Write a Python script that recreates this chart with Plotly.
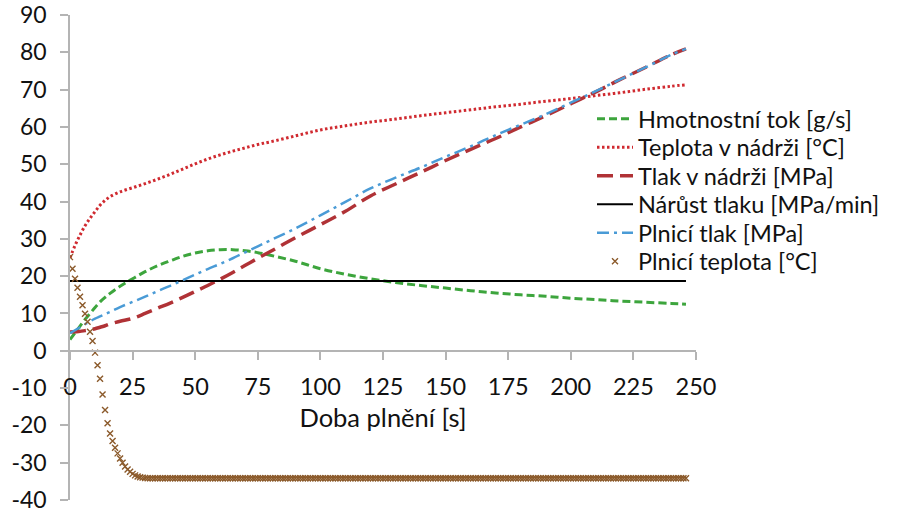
import plotly.graph_objects as go

# ---- data ----
t_line = [0, 2, 4, 6, 8, 10, 12, 14, 16, 20, 25, 30, 35, 40, 45, 50, 55, 60, 65, 70,
          75, 80, 90, 100, 110, 120, 130, 140, 150, 160, 170, 180, 190, 200, 210, 220,
          230, 240, 246]

hmotnostni_tok = [3.0, 4.8, 6.6, 8.4, 10.0, 11.6, 13.1, 14.3, 15.4, 17.3, 19.3, 21.2, 22.8,
                  24.1, 25.3, 26.2, 26.8, 27.1, 27.1, 26.8, 26.3, 25.6, 24.0, 22.0, 20.5,
                  19.3, 18.3, 17.5, 16.8, 16.1, 15.5, 15.0, 14.6, 14.1, 13.7, 13.3, 13.0,
                  12.7, 12.5]

teplota_nadrz = [24.9, 28.2, 31.0, 33.5, 35.5, 37.3, 39.0, 40.3, 41.3, 42.6, 43.7, 44.8,
                 46.0, 47.3, 48.7, 50.1, 51.4, 52.5, 53.5, 54.4, 55.3, 56.0, 57.6, 59.2,
                 60.3, 61.3, 62.1, 63.0, 63.8, 64.6, 65.4, 66.1, 66.9, 67.6, 68.4, 69.2,
                 70.1, 70.9, 71.3]

tlak_nadrz = [5.0, 5.1, 5.2, 5.4, 5.6, 5.9, 6.3, 6.7, 7.2, 7.9, 8.7, 10.0, 11.4, 12.8,
              14.3, 15.9, 17.5, 19.2, 21.0, 22.9, 24.8, 26.6, 30.3, 33.8, 37.4, 41.5,
              44.7, 47.8, 51.0, 54.0, 56.9, 60.0, 63.0, 66.2, 69.4, 72.8, 76.0, 79.3, 80.9]

plnici_tlak = [4.7, 5.5, 6.3, 7.1, 7.9, 8.6, 9.2, 9.8, 10.4, 11.7, 13.1, 14.5, 16.0, 17.4,
               18.9, 20.4, 21.9, 23.3, 24.8, 26.4, 28.0, 29.6, 32.8, 36.3, 39.9, 43.5,
               46.4, 49.1, 52.0, 54.8, 57.8, 60.6, 63.4, 66.5, 69.6, 72.8, 76.0, 79.3, 80.9]

t_narust = [0, 246]
narust_tlaku = [18.7, 18.7]

# Plnicí teplota sampled every second, 0..246 s
t_plnici = list(range(0, 247))
plnici_teplota = [
    # 0 .. 30 s
    25.1, 22.0, 19.3, 16.9, 14.5, 12.2, 9.9, 7.8, 5.1, 2.6, -0.5, -3.9, -7.5, -11.7,
    -15.9, -19.4, -22.2, -24.2, -26.0, -27.5, -28.9, -30.0, -31.0, -31.8, -32.4, -33.0,
    -33.4, -33.7, -33.9, -34.0, -34.1,
    # 31 .. 246 s (flat)
    -34.2, -34.2, -34.2, -34.2, -34.2, -34.2, -34.2, -34.2, -34.2, -34.2, -34.2, -34.2,  # 31-42
    -34.2, -34.2, -34.2, -34.2, -34.2, -34.2, -34.2, -34.2, -34.2, -34.2, -34.2, -34.2,  # 43-54
    -34.2, -34.2, -34.2, -34.2, -34.2, -34.2, -34.2, -34.2, -34.2, -34.2, -34.2, -34.2,  # 55-66
    -34.2, -34.2, -34.2, -34.2, -34.2, -34.2, -34.2, -34.2, -34.2, -34.2, -34.2, -34.2,  # 67-78
    -34.2, -34.2, -34.2, -34.2, -34.2, -34.2, -34.2, -34.2, -34.2, -34.2, -34.2, -34.2,  # 79-90
    -34.2, -34.2, -34.2, -34.2, -34.2, -34.2, -34.2, -34.2, -34.2, -34.2, -34.2, -34.2,  # 91-102
    -34.2, -34.2, -34.2, -34.2, -34.2, -34.2, -34.2, -34.2, -34.2, -34.2, -34.2, -34.2,  # 103-114
    -34.2, -34.2, -34.2, -34.2, -34.2, -34.2, -34.2, -34.2, -34.2, -34.2, -34.2, -34.2,  # 115-126
    -34.2, -34.2, -34.2, -34.2, -34.2, -34.2, -34.2, -34.2, -34.2, -34.2, -34.2, -34.2,  # 127-138
    -34.2, -34.2, -34.2, -34.2, -34.2, -34.2, -34.2, -34.2, -34.2, -34.2, -34.2, -34.2,  # 139-150
    -34.2, -34.2, -34.2, -34.2, -34.2, -34.2, -34.2, -34.2, -34.2, -34.2, -34.2, -34.2,  # 151-162
    -34.2, -34.2, -34.2, -34.2, -34.2, -34.2, -34.2, -34.2, -34.2, -34.2, -34.2, -34.2,  # 163-174
    -34.2, -34.2, -34.2, -34.2, -34.2, -34.2, -34.2, -34.2, -34.2, -34.2, -34.2, -34.2,  # 175-186
    -34.2, -34.2, -34.2, -34.2, -34.2, -34.2, -34.2, -34.2, -34.2, -34.2, -34.2, -34.2,  # 187-198
    -34.2, -34.2, -34.2, -34.2, -34.2, -34.2, -34.2, -34.2, -34.2, -34.2, -34.2, -34.2,  # 199-210
    -34.2, -34.2, -34.2, -34.2, -34.2, -34.2, -34.2, -34.2, -34.2, -34.2, -34.2, -34.2,  # 211-222
    -34.2, -34.2, -34.2, -34.2, -34.2, -34.2, -34.2, -34.2, -34.2, -34.2, -34.2, -34.2,  # 223-234
    -34.2, -34.2, -34.2, -34.2, -34.2, -34.2, -34.2, -34.2, -34.2, -34.2, -34.2, -34.2,  # 235-246
]
assert len(plnici_teplota) == len(t_plnici), len(plnici_teplota)

x_ticks = [0, 25, 50, 75, 100, 125, 150, 175, 200, 225, 250]
y_ticks = [-40, -30, -20, -10, 0, 10, 20, 30, 40, 50, 60, 70, 80, 90]

names = ["Hmotnostní tok [g/s]", "Teplota v nádrži [°C]", "Tlak v nádrži [MPa]",
         "Nárůst tlaku [MPa/min]", "Plnicí tlak [MPa]", "Plnicí teplota [°C]"]

# ---- figure ----
FONT = "Lato"
TXT = "#111111"
AX = "#B4B4B4"

fig = go.Figure()
fig.add_trace(go.Scatter(x=t_line, y=hmotnostni_tok, mode="lines", name=names[0],
                         line=dict(color="#3DA53D", width=3, dash="8px,4px", shape="spline"),
                         legend="legend"))
fig.add_trace(go.Scatter(x=t_line, y=teplota_nadrz, mode="lines", name=names[1],
                         line=dict(color="#D02A30", width=3, dash="2.5px,2.5px", shape="spline"),
                         legend="legend2"))
fig.add_trace(go.Scatter(x=t_line, y=tlak_nadrz, mode="lines", name=names[2],
                         line=dict(color="#B03236", width=3.5, dash="16px,7px", shape="spline"),
                         legend="legend3"))
fig.add_trace(go.Scatter(x=t_narust, y=narust_tlaku, mode="lines", name=names[3],
                         line=dict(color="#000000", width=2),
                         legend="legend4"))
fig.add_trace(go.Scatter(x=t_line, y=plnici_tlak, mode="lines", name=names[4],
                         line=dict(color="#4A9BD6", width=2.5, dash="12px,5px,3px,5px", shape="spline"),
                         legend="legend5"))
fig.add_trace(go.Scatter(x=t_plnici, y=plnici_teplota, mode="markers", name=names[5],
                         marker=dict(symbol="x-thin", size=6,
                                     line=dict(width=1.4, color="#8B5A2B")),
                         legend="legend6"))

# layout geometry (pixels)
W, H = 901, 513
plot_top, plot_bot, plot_left, plot_right = 15, 500, 70, 696
plot_w = plot_right - plot_left

# per-item legends to reproduce the tight line spacing
leg_rows_px = [119, 147.5, 176, 204.5, 233, 261.5]
leg_x = (592 - plot_left) / plot_w
legend_common = dict(xanchor="left", yanchor="middle", bgcolor="rgba(0,0,0,0)",
                     borderwidth=0, font=dict(family=FONT, size=23.5, color=TXT),
                     itemwidth=36, tracegroupgap=0)
legend_layout = {}
for i, ypx in enumerate(leg_rows_px):
    key = "legend" if i == 0 else f"legend{i + 1}"
    legend_layout[key] = dict(legend_common, x=leg_x,
                              y=(plot_bot - ypx) / (plot_bot - plot_top))

fig.update_layout(
    width=W, height=H,
    margin=dict(l=plot_left, r=W - plot_right, t=plot_top, b=H - plot_bot, autoexpand=False),
    paper_bgcolor="white", plot_bgcolor="white",
    font=dict(family=FONT, size=23, color=TXT),
    showlegend=True,
    **legend_layout,
)

fig.update_xaxes(
    range=[0, 250], tickvals=x_ticks, ticktext=[str(v) for v in x_ticks],
    anchor="free", position=40 / 130,
    showline=True, linecolor=AX, linewidth=1.5,
    ticks="outside", ticklen=8, tickcolor=AX, tickwidth=1.5,
    showgrid=False, zeroline=False,
    tickfont=dict(family=FONT, size=23.5, color=TXT),
    ticklabelstandoff=7,
    title=dict(text="Doba plnění [s]", font=dict(family=FONT, size=25.5, color=TXT), standoff=9),
)
fig.update_yaxes(
    range=[-40, 90], tickvals=y_ticks, ticktext=[str(v) for v in y_ticks],
    showline=True, linecolor=AX, linewidth=1.5,
    ticks="outside", ticklen=8, tickcolor=AX, tickwidth=1.5,
    showgrid=False, zeroline=False,
    tickfont=dict(family=FONT, size=23, color=TXT),
    ticklabelstandoff=9, ticklabeloverflow="allow",
)

fig.write_html(
    "out.html",
    config={"displayModeBar": False},
    post_script="document.body.style.margin='0';document.body.style.overflow='hidden';",
)
